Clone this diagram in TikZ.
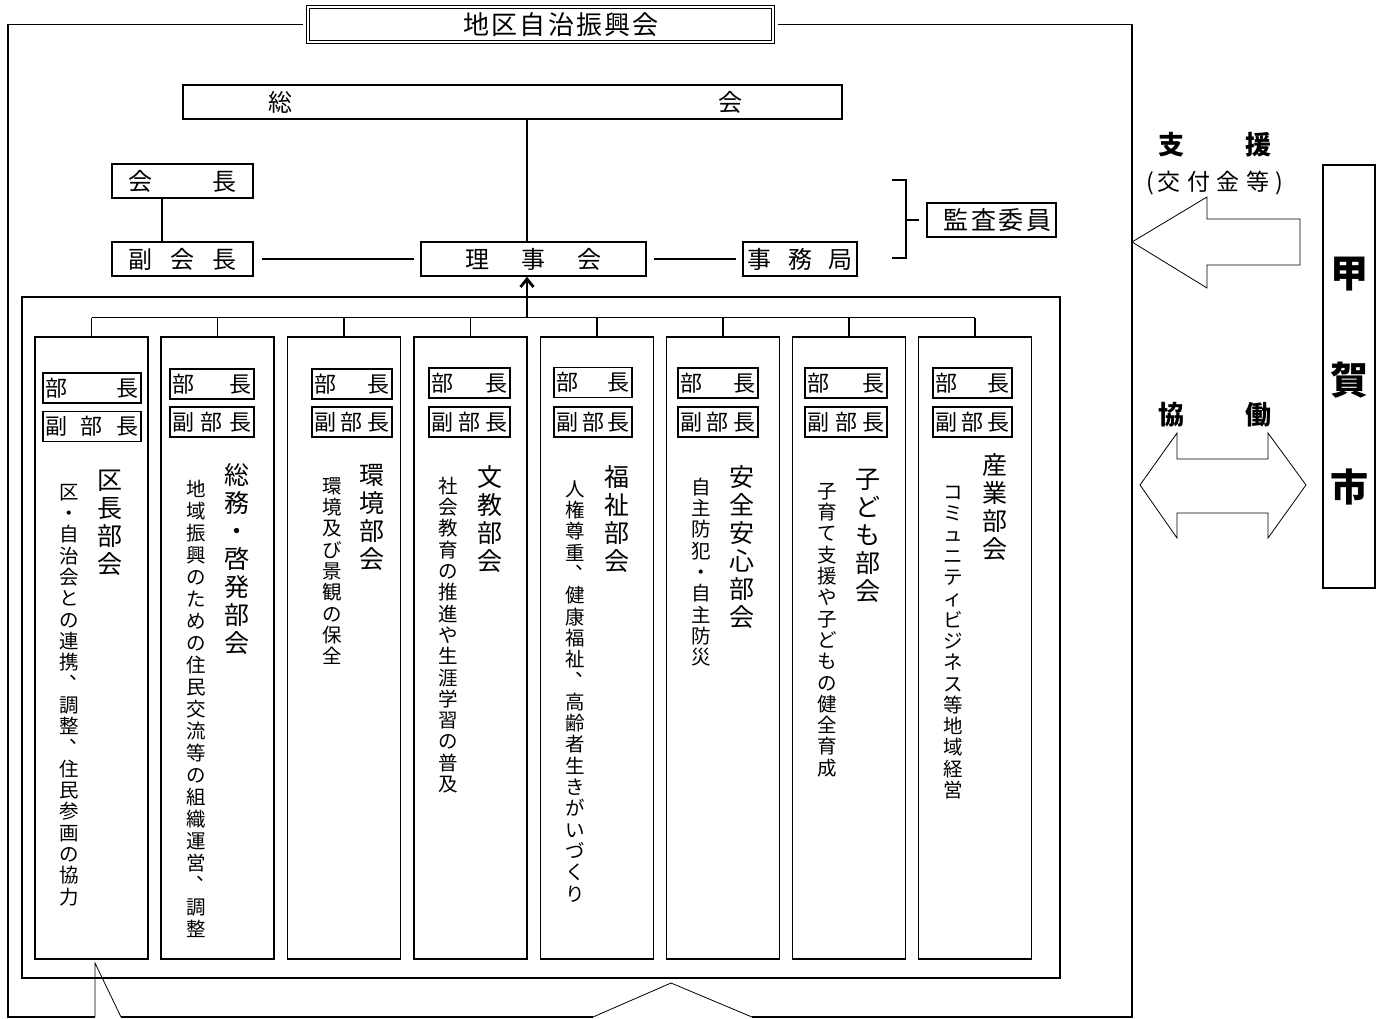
\documentclass[tikz,border=0pt]{standalone}
\usepackage{fontspec}
\setmainfont{Noto Sans CJK JP}
\usetikzlibrary{arrows.meta}
\makeatletter
\newdimen\vtpitch
\def\vtcomma{、}
\newcommand\vtext[2]{\vtpitch=#1\relax\vbox{\offinterlineskip\@tfor\vtc:=#2\do{\vtcell}}}
\def\vtcell{\hbox to 1em{\vrule height .88em depth \dimexpr\vtpitch-.88em\relax width 0pt\ifx\vtc\vtcomma\kern.55em\rlap{\smash{\raise.6em\hbox{\vtc}}}\hss\else\hss\vtc\hss\fi}}
\newcommand\spr[2]{\hbox to #1{\let\sprsep\relax\@tfor\sprc:=#2\do{\sprsep\sprc\let\sprsep\hfill}}}
\makeatother
\newcommand\fsz[1]{\fontsize{#1}{#1}\selectfont}
\begin{document}
\begin{tikzpicture}[x=1pt,y=-1pt,
  box/.style={draw, line width=1.6pt, inner sep=0pt, rectangle},
  frame/.style={line width=1.8pt},
  thinline/.style={line width=0.8pt, line join=miter},
  conn/.style={line width=1.2pt},
  vt/.style={anchor=north, inner sep=0pt}]
\useasboundingbox (0,0) rectangle (1376,1019);

% ---- outer frame with title
\node[draw, double, double distance=1.8pt, line width=1.5pt, minimum width=465pt, minimum height=35pt, inner sep=0pt] (title) at (540.5,24.5) {};
\node[inner sep=0pt] (titletxt) at (561,24.5) {\fsz{26}\spr{195pt}{地区自治振興会}};
\coordinate (fTL) at (8,24.5);
\coordinate (fTR) at (1132,24.5);
\coordinate (fBL) at (8,1017);
\coordinate (fBR) at (1132,1017);
\coordinate (p1a) at (95,1017);
\coordinate (p1tip) at (95,963);
\coordinate (p1b) at (121,1017);
\coordinate (p2a) at (593,1017);
\coordinate (p2tip) at (671,983);
\coordinate (p2b) at (752,1017);
\draw[frame] ([xshift=-4pt]title.west) -- (fTL) -- (fBL) -- (p1a);
\draw[frame] (p1b) -- (p2a);
\draw[frame] (p2b) -- (fBR) -- (fTR) -- ([xshift=4pt]title.east);
\draw[thinline] (p1a) -- (p1tip) -- (p1b);
\draw[thinline] (p2a) -- (p2tip) -- (p2b);

% ---- upper organisation
\node[box, minimum width=659pt, minimum height=34pt] (sokai) at (512.5,102) {\fsz{24}\spr{474pt}{総会}\kern15pt};
\node[box, minimum width=141pt, minimum height=34pt] (kaicho) at (182.5,181) {\fsz{24}\spr{109pt}{会長}};
\node[box, minimum width=141pt, minimum height=34pt] (fuku) at (182.5,259) {\fsz{24}\spr{109pt}{副会長}};
\node[box, minimum width=225pt, minimum height=34pt] (riji) at (533.5,259) {\fsz{24}\spr{137pt}{理事会}};
\node[box, minimum width=114pt, minimum height=34pt] (jimu) at (800,259) {\fsz{24}\spr{106pt}{事務局}};
\node[box, minimum width=129pt, minimum height=34pt] (kansa) at (991.5,220) {\fsz{25}\kern12pt\spr{108pt}{監査委員}};

\coordinate (xs) at (527,0);
\draw[conn] (xs |- sokai.south) -- (xs |- riji.north);
\draw[conn] ([xshift=-20.5pt]kaicho.south) -- ([xshift=-20.5pt]fuku.north);
\draw[conn] ([xshift=8pt]fuku.east) -- ([xshift=-6pt]riji.west);
\draw[conn] ([xshift=7pt]riji.east) -- ([xshift=-6pt]jimu.west);

% bracket to auditors
\coordinate (brT) at (892,180);
\coordinate (brTc) at (906,180);
\coordinate (brBc) at (906,258);
\coordinate (brB) at (892,258);
\coordinate (brM) at (906,220);
\draw[conn] (brT) -- (brTc) -- (brBc) -- (brB);
\draw[conn] (brM) -- ([xshift=-7pt]kansa.west);

% ---- sections
\node[draw, line width=1.8pt, minimum width=1038pt, minimum height=681pt, inner sep=0pt] (inner) at (541,637.5) {};
\foreach \i/\cx in {1/91.5,2/217.5,3/344,4/470.5,5/597,6/723,7/849,8/975}
  \node[box, minimum width=113pt, minimum height=622pt] (c\i) at (\cx,648) {};
\coordinate (bar) at (0,317.5);
\draw[conn] (c1.north |- bar) -- (c8.north |- bar);
\foreach \i in {1,...,8} \draw[conn] (c\i.north) -- (c\i.north |- bar);
\draw[line width=2.8pt, -{Straight Barb[length=8pt,width=13pt]}] (xs |- bar) -- (xs |- riji.south);

\foreach \i/\x/\w/\ya/\yb in {1/92/98pt/388/426.5, 2/212/84pt/384/422, 3/352/80pt/384/422, 4/469.5/81pt/383/422, 5/593/78pt/382.5/422, 6/718/80pt/383/422, 7/846/82pt/383/422, 8/972.5/79pt/383/422}{
  \node[box, minimum width=\w, minimum height=30pt] (bc\i) at (\x,\ya) {\fsz{22}\spr{\dimexpr\w-5pt\relax}{部長}};
  \node[box, minimum width=\w, minimum height=30pt] (bf\i) at (\x,\yb) {\fsz{22}\spr{\dimexpr\w-5pt\relax}{副部長}};
}

% titles
\node[vt] (t1) at (110,467) {\fsz{25}\vtext{28pt}{区長部会}};
\node[vt] (t2) at (237,462) {\fsz{25}\vtext{28pt}{総務・啓発部会}};
\node[vt] (t3) at (372,462) {\fsz{25}\vtext{28pt}{環境部会}};
\node[vt] (t4) at (490,464) {\fsz{25}\vtext{28pt}{文教部会}};
\node[vt] (t5) at (617,464) {\fsz{25}\vtext{28pt}{福祉部会}};
\node[vt] (t6) at (742,464) {\fsz{25}\vtext{28pt}{安全安心部会}};
\node[vt] (t7) at (868,466) {\fsz{25}\vtext{28pt}{子ども部会}};
\node[vt] (t8) at (995,452) {\fsz{25}\vtext{28pt}{産業部会}};
% descriptions
\node[vt] (d1) at (69,482) {\fsz{19.5}\vtext{21.3pt}{区・自治会との連携、調整、住民参画の協力}};
\node[vt] (d2) at (196,479) {\fsz{19.5}\vtext{22pt}{地域振興のための住民交流等の組織運営、調整}};
\node[vt] (d3) at (332,476) {\fsz{19.5}\vtext{21.3pt}{環境及び景観の保全}};
\node[vt] (d4) at (448,476) {\fsz{19.5}\vtext{21.3pt}{社会教育の推進や生涯学習の普及}};
\node[vt] (d5) at (575,479) {\fsz{19.5}\vtext{21.3pt}{人権尊重、健康福祉、高齢者生きがいづくり}};
\node[vt] (d6) at (701,477) {\fsz{19.5}\vtext{21.3pt}{自主防犯・自主防災}};
\node[vt] (d7) at (827,481) {\fsz{19.5}\vtext{21.3pt}{子育て支援や子どもの健全育成}};
\node[vt] (d8) at (953,482) {\fsz{19.5}\vtext{21.3pt}{コミュニティビジネス等地域経営}};

% ---- city side
\node[box, minimum width=52pt, minimum height=423pt] (kokabox) at (1349,376.5) {};
\node[vt] (koka) at (1349,254) {\fsz{38}\bfseries\vtext{107pt}{甲賀市}};
\node[inner sep=0pt] (shien) at (1215,145) {\fsz{26}\bfseries\spr{114pt}{支援}};
\node[inner sep=0pt] (kofu) at (1215,183) {\fsz{23}(\kern3pt\spr{112pt}{交付金等}\kern6pt)};
\node[inner sep=0pt] (kyodo) at (1215,415) {\fsz{26}\bfseries\spr{114pt}{協働}};
\draw[thinline] (1132,242) -- (1207,197) -- (1207,219) -- (1300,219) -- (1300,265) -- (1207,265) -- (1207,288) -- cycle;
\draw[thinline] (1140,485) -- (1177,433) -- (1177,459) -- (1268,459) -- (1268,433) -- (1306,485) -- (1268,538) -- (1268,513) -- (1177,513) -- (1177,538) -- cycle;
\end{tikzpicture}
\end{document}
